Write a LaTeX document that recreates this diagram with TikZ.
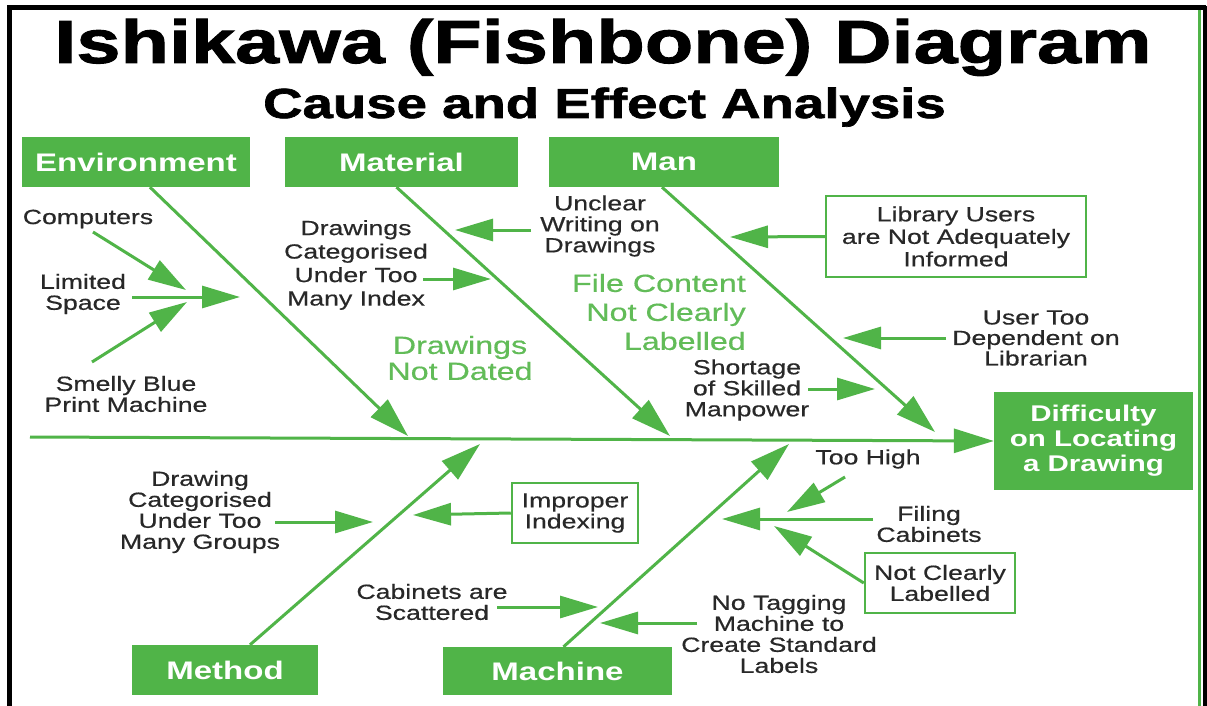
\documentclass[tikz,border=0pt]{standalone}
\usepackage{fontspec}
\setmainfont{Liberation Sans}[FakeStretch=1.3,UprightFeatures={FakeBold=0.5}]
\newfontfamily\titlef{Liberation Sans}[FakeStretch=1.3,BoldFeatures={FakeBold=1.6}]
\usetikzlibrary{arrows.meta}
\definecolor{fg}{RGB}{80,180,72}
\definecolor{lg}{RGB}{98,188,88}
\definecolor{txt}{RGB}{40,40,40}
\begin{document}
\begin{tikzpicture}[x=1pt,y=-1pt]
\tikzset{
 cat/.style={fill=fg, text=white, font=\bfseries\fontsize{25.4}{27}\selectfont, inner sep=0pt, minimum height=50pt},
 obox/.style={draw=fg, line width=2.5pt, fill=white, text=txt, align=center, font=\fontsize{20.5}{21}\selectfont, inner sep=0pt},
 lbl/.style={text=txt, align=center, font=\fontsize{20.5}{21}\selectfont, inner sep=0pt},
 glbl/.style={text=lg, align=center, font=\fontsize{24.8}{27}\selectfont, inner sep=0pt},
 bone/.style={draw=fg, line width=3pt, -{Triangle[length=40pt,width=24pt]}},
 arr/.style={draw=fg, line width=3pt, -{Triangle[length=38pt,width=22pt]}},
}
\useasboundingbox (0,0) rectangle (1207,706);
\fill[white] (0,0) rectangle (1207,706);
% frame
\draw[black, line width=5pt] (7,8) -- (1206,8);
\draw[black, line width=5pt] (9.5,6) -- (9.5,706);
\draw[fg, line width=2.5pt] (1199.5,10) -- (1199.5,706);
\draw[black, line width=4pt] (1204.5,6) -- (1204.5,706);

% titles
\node[font=\titlef\bfseries\fontsize{61}{62}\selectfont, anchor=base, inner sep=0pt] (title) at (603,63) {Ishikawa (Fishbone) Diagram};
\node[font=\titlef\bfseries\fontsize{42}{44}\selectfont, anchor=base, inner sep=0pt] (subtitle) at (604.5,118) {Cause and Effect Analysis};

% category boxes
\node[cat, minimum width=228pt] (env) at (136,162) {Environment};
\node[cat, minimum width=233pt] (mat) at (401.5,162) {Material};
\node[cat, minimum width=230pt] (man) at (664,162) {Man};
\node[cat, minimum width=186pt] (met) at (225,670) {Method};
\node[cat, minimum width=229pt, minimum height=48pt] (mac) at (557.5,671) {Machine};
\node[cat, minimum width=199pt, minimum height=98pt, align=center, font=\bfseries\fontsize{22.7}{25}\selectfont] (eff) at (1093.5,441) {Difficulty\\on Locating\\a Drawing};

% spine and bones
\coordinate (spS) at (30,437);
\draw[bone] (spS) -- (eff.west);
\coordinate (envT) at (408,436);
\coordinate (matT) at (670,436);
\coordinate (manT) at (935,432);
\coordinate (metT) at (480,444);
\coordinate (macT) at (789,444);
\draw[bone] ([xshift=14pt]env.south) -- (envT);
\draw[bone] ([xshift=-5pt]mat.south) -- (matT);
\draw[bone] ([xshift=-2pt]man.south) -- (manT);
\draw[bone] ([xshift=25pt]met.north) -- (metT);
\draw[bone] ([xshift=6pt]mac.north) -- (macT);

% Environment causes
\node[lbl] (comp) at (88,219) {Computers};
\node[lbl] (lim) at (83,294) {Limited\\Space};
\node[lbl] (smel) at (126,394) {Smelly Blue\\Print Machine};
\coordinate (compS) at (93,232); \coordinate (compT) at (186,290);
\coordinate (limS) at (132,297); \coordinate (limT) at (240,297);
\coordinate (smelS) at (92,362); \coordinate (smelT) at (187,302);
\draw[arr] (compS) -- (compT);
\draw[arr] (limS) -- (limT);
\draw[arr] (smelS) -- (smelT);

% Material causes
\node[lbl, font=\fontsize{20.5}{23.5}\selectfont] (dci) at (356,265) {Drawings\\Categorised\\Under Too\\Many Index};
\coordinate (dciS) at (423,279); \coordinate (dciT) at (491,279);
\draw[arr] (dciS) -- (dciT);
\node[lbl] (unc) at (600,226) {Unclear\\Writing on\\Drawings};
\coordinate (uncS) at (531,230); \coordinate (uncT) at (455,230);
\draw[arr] (uncS) -- (uncT);
\node[glbl, font=\fontsize{24.8}{26}\selectfont] (dnd) at (460,358) {Drawings\\Not Dated};
\node[glbl, align=right, font=\fontsize{24.8}{29}\selectfont, anchor=east] (fcn) at (746,312) {File Content\\Not Clearly\\Labelled};

% Man causes
\node[obox, minimum width=260pt, minimum height=81pt, font=\fontsize{20.5}{22.5}\selectfont] (lib) at (956,236.5) {Library Users\\are Not Adequately\\Informed};
\coordinate (libT) at (730,237);
\draw[arr] (lib.west) -- (libT);
\node[lbl, font=\fontsize{20.5}{20.5}\selectfont] (usr) at (1036,338) {User Too\\Dependent on\\Librarian};
\coordinate (usrS) at (946,338); \coordinate (usrT) at (843,338);
\draw[arr] (usrS) -- (usrT);
\node[lbl] (sho) at (747,390) {Shortage\\of Skilled\\Manpower};
\coordinate (shoS) at (808,389); \coordinate (shoT) at (875,389);
\draw[arr] (shoS) -- (shoT);

% Method causes
\node[lbl] (dcg) at (200,512) {Drawing\\Categorised\\Under Too\\Many Groups};
\coordinate (dcgS) at (275,522); \coordinate (dcgT) at (373,522);
\draw[arr] (dcgS) -- (dcgT);
\node[obox, minimum width=126pt, minimum height=60pt] (imp) at (575,513) {Improper\\Indexing};
\coordinate (impT) at (413,515);
\draw[arr] (imp.west) -- (impT);
\node[lbl] (cab) at (432,602) {Cabinets are\\Scattered};
\coordinate (cabS) at (497,607); \coordinate (cabT) at (598,607);
\draw[arr] (cabS) -- (cabT);

% Machine causes
\node[lbl] (toh) at (868,459) {Too High};
\coordinate (tohS) at (845,477); \coordinate (tohT) at (787,512);
\draw[arr] (tohS) -- (tohT);
\node[lbl] (fil) at (929,524) {Filing\\Cabinets};
\coordinate (filS) at (873,519); \coordinate (filT) at (722,519);
\draw[arr] (filS) -- (filT);
\node[obox, minimum width=150pt, minimum height=60pt] (ncl) at (940,583) {Not Clearly\\Labelled};
\coordinate (nclT) at (774,526);
\draw[arr] (ncl.west) -- (nclT);
\node[lbl] (ntg) at (779,634) {No Tagging\\Machine to\\Create Standard\\Labels};
\coordinate (ntgS) at (697,623); \coordinate (ntgT) at (600,623);
\draw[arr] (ntgS) -- (ntgT);
\end{tikzpicture}
\end{document}
